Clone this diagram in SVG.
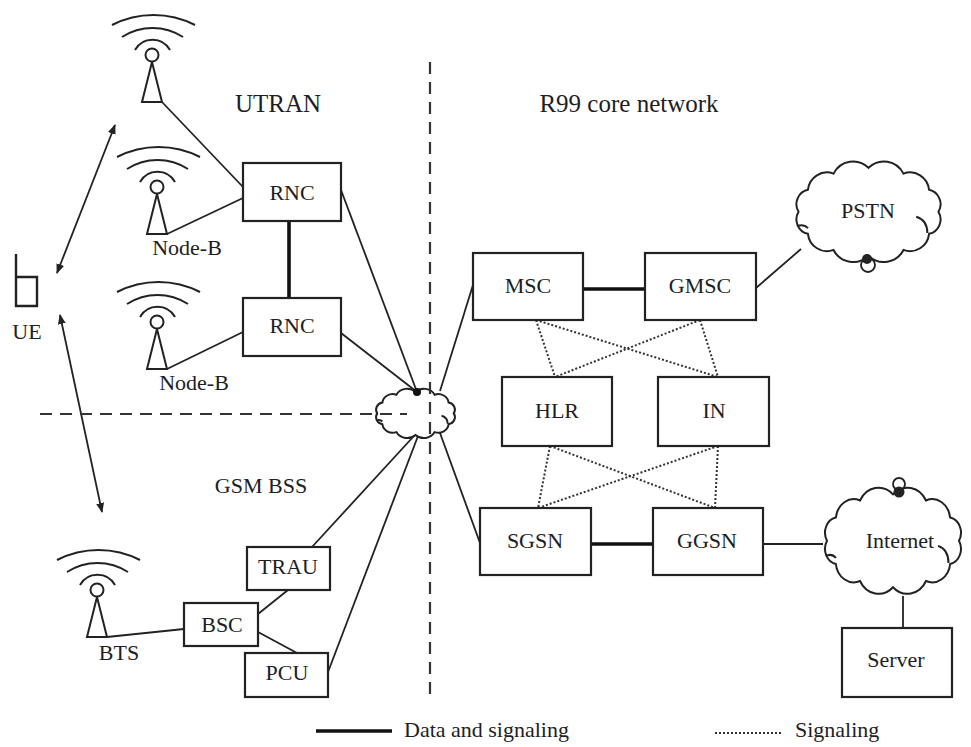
<svg xmlns="http://www.w3.org/2000/svg" width="971" height="747" viewBox="0 0 971 747">
<defs>
<style>
text{font-family:'Liberation Serif','DejaVu Serif',serif;font-size:22px;fill:#1e1e24;text-anchor:middle}
.region{font-size:25px}
.legend{text-anchor:start}
.box{fill:#fff;stroke:#222;stroke-width:2.2}
.ln{stroke:#222;stroke-width:1.8;fill:none}
.thick{stroke:#111;stroke-width:3.6;fill:none}
.dot{stroke:#333;stroke-width:2;stroke-dasharray:2 2;fill:none}
.dash{stroke:#333;stroke-width:2.2;stroke-dasharray:12 8;fill:none}
.cloud{fill:#fff;stroke:#222;stroke-width:2}
.ant{fill:none;stroke:#222;stroke-width:2}
</style>
<marker id="ah" viewBox="0 0 10 8" refX="9" refY="4" markerWidth="10" markerHeight="8" markerUnits="userSpaceOnUse" orient="auto-start-reverse">
<path d="M0,0 L10,4 L0,8 z" fill="#222"/>
</marker>
<g id="antenna" class="ant">
<circle cx="0" cy="0" r="6.5"/>
<path d="M0 7 L-10 47 L10 47 Z"/>
<path d="M-17 -5 A20 20 0 0 1 18 -5"/>
<path d="M-30 -18 A56 56 0 0 1 31 -18"/>
<path d="M-40 -30 A91 91 0 0 1 43 -30"/>
</g>
<path id="cloud" class="cloud" vector-effect="non-scaling-stroke" d="M6 33 A9 9 0 0 1 11.9 19.5 A12 12 0 0 1 28 9.6 A14 14 0 0 1 50 6 A14 14 0 0 1 72 9.6 A12 12 0 0 1 88.1 19.5 A9 9 0 0 1 94 33 A9 9 0 0 1 88.1 46.5 A12 12 0 0 1 72 56.4 A14 14 0 0 1 50 60 A14 14 0 0 1 28 56.4 A12 12 0 0 1 11.9 46.5 A9 9 0 0 1 6 33 Z M80 36 Q87 38 87 46 M5 42 Q9 40 12 43"/>
</defs>
<rect width="971" height="747" fill="#fff"/>

<g id="connectors">
<line class="ln" x1="162" y1="102" x2="243" y2="187"/>
<line class="ln" x1="167" y1="234" x2="243" y2="198"/>
<line class="ln" x1="167" y1="369" x2="243" y2="332"/>
<line class="ln" x1="341" y1="190" x2="417" y2="392"/>
<line class="ln" x1="341" y1="333" x2="417" y2="392"/>
<line class="thick" x1="289" y1="221" x2="289" y2="298"/>
<line class="ln" x1="473" y1="285" x2="440" y2="391"/>
<line class="ln" x1="480" y1="543" x2="440" y2="433"/>
<line class="ln" x1="312" y1="547" x2="413" y2="437"/>
<line class="ln" x1="328" y1="672" x2="418" y2="436"/>
<line class="ln" x1="258" y1="614" x2="288" y2="590"/>
<line class="ln" x1="258" y1="632" x2="297" y2="653"/>
<line class="ln" x1="107" y1="637" x2="184" y2="629"/>
<line class="thick" x1="583" y1="289" x2="645" y2="289"/>
<line class="ln" x1="756" y1="288" x2="801" y2="249"/>
<line class="thick" x1="591" y1="544" x2="653" y2="544"/>
<line class="ln" x1="763" y1="544" x2="823" y2="544"/>
<line class="ln" x1="903" y1="596" x2="903" y2="628"/>
<line class="dot" x1="536" y1="320" x2="555" y2="377"/>
<line class="dot" x1="536" y1="320" x2="718" y2="377"/>
<line class="dot" x1="700" y1="320" x2="555" y2="377"/>
<line class="dot" x1="700" y1="320" x2="718" y2="377"/>
<line class="dot" x1="550" y1="446" x2="538" y2="508"/>
<line class="dot" x1="550" y1="446" x2="715" y2="508"/>
<line class="dot" x1="718" y1="446" x2="538" y2="508"/>
<line class="dot" x1="718" y1="446" x2="715" y2="508"/>
<line class="ln" x1="57" y1="273" x2="115" y2="125" marker-start="url(#ah)" marker-end="url(#ah)"/>
<line class="ln" x1="60" y1="315" x2="102" y2="512" marker-start="url(#ah)" marker-end="url(#ah)"/>
</g>

<g id="core-cloud">
<use href="#cloud" transform="translate(372,387) scale(0.87,0.8)"/>
<circle cx="417" cy="392" r="4" fill="#111"/>
</g>

<g id="boundaries">
<line class="dash" x1="430" y1="62" x2="430" y2="698"/>
<line class="dash" x1="40" y1="414" x2="407" y2="414"/>
</g>

<g font-family="Liberation Serif, DejaVu Serif, serif">
<g id="node-b-1"><use href="#antenna" x="152" y="55"/></g>
<g id="node-b-2"><use href="#antenna" x="157" y="187"/><text x="187" y="255">Node-B</text></g>
<g id="node-b-3"><use href="#antenna" x="157" y="322"/><text x="194" y="390">Node-B</text></g>
<g id="bts"><use href="#antenna" x="97" y="590"/><text x="119" y="660">BTS</text></g>

<g id="ue">
<path d="M16 254 V306 H37 V277 H16" fill="none" stroke="#222" stroke-width="2.4"/>
<text x="27" y="339">UE</text>
</g>

<g id="rnc-1"><rect class="box" x="243" y="163" width="98" height="58"/><text x="292" y="200">RNC</text></g>
<g id="rnc-2"><rect class="box" x="243" y="298" width="98" height="58"/><text x="292" y="333">RNC</text></g>
<g id="trau"><rect class="box" x="247" y="547" width="83" height="43"/><text x="288" y="574">TRAU</text></g>
<g id="bsc"><rect class="box" x="184" y="603" width="74" height="43"/><text x="222" y="632">BSC</text></g>
<g id="pcu"><rect class="box" x="245" y="653" width="83" height="44"/><text x="287" y="680">PCU</text></g>

<g id="msc"><rect class="box" x="473" y="253" width="110" height="67"/><text x="528" y="293">MSC</text></g>
<g id="gmsc"><rect class="box" x="645" y="253" width="111" height="67"/><text x="700" y="293">GMSC</text></g>
<g id="hlr"><rect class="box" x="502" y="377" width="110" height="69"/><text x="557" y="418">HLR</text></g>
<g id="in"><rect class="box" x="658" y="377" width="111" height="69"/><text x="714" y="418">IN</text></g>
<g id="sgsn"><rect class="box" x="480" y="508" width="111" height="67"/><text x="535" y="548">SGSN</text></g>
<g id="ggsn"><rect class="box" x="653" y="508" width="110" height="67"/><text x="707" y="548">GGSN</text></g>

<g id="pstn">
<use href="#cloud" transform="translate(789,158) scale(1.59,1.63)"/>
<circle cx="868" cy="265" r="7" fill="#fff" stroke="#222" stroke-width="1.8"/>
<circle cx="867" cy="259" r="5" fill="#222"/>
<text x="868" y="218">PSTN</text>
</g>

<g id="internet">
<use href="#cloud" transform="translate(818,484) scale(1.5,1.72)"/>
<circle cx="899" cy="484" r="6" fill="#fff" stroke="#222" stroke-width="1.8"/>
<circle cx="899" cy="492" r="5.5" fill="#222"/>
<text x="900" y="548">Internet</text>
</g>

<g id="server"><rect class="box" x="842" y="628" width="110" height="69"/><text x="896" y="667">Server</text></g>

<g id="labels">
<text class="region" x="278" y="112">UTRAN</text>
<text class="region" x="629" y="112">R99 core network</text>
<text x="261" y="493">GSM BSS</text>
</g>

<g id="legend">
<line class="thick" x1="316" y1="731" x2="392" y2="731"/>
<text class="legend" x="404" y="737">Data and signaling</text>
<line class="dot" x1="715" y1="733" x2="781" y2="733" stroke-width="1.5" stroke-dasharray="1.5 1.8"/>
<text class="legend" x="795" y="737">Signaling</text>
</g>
</g>
</svg>
